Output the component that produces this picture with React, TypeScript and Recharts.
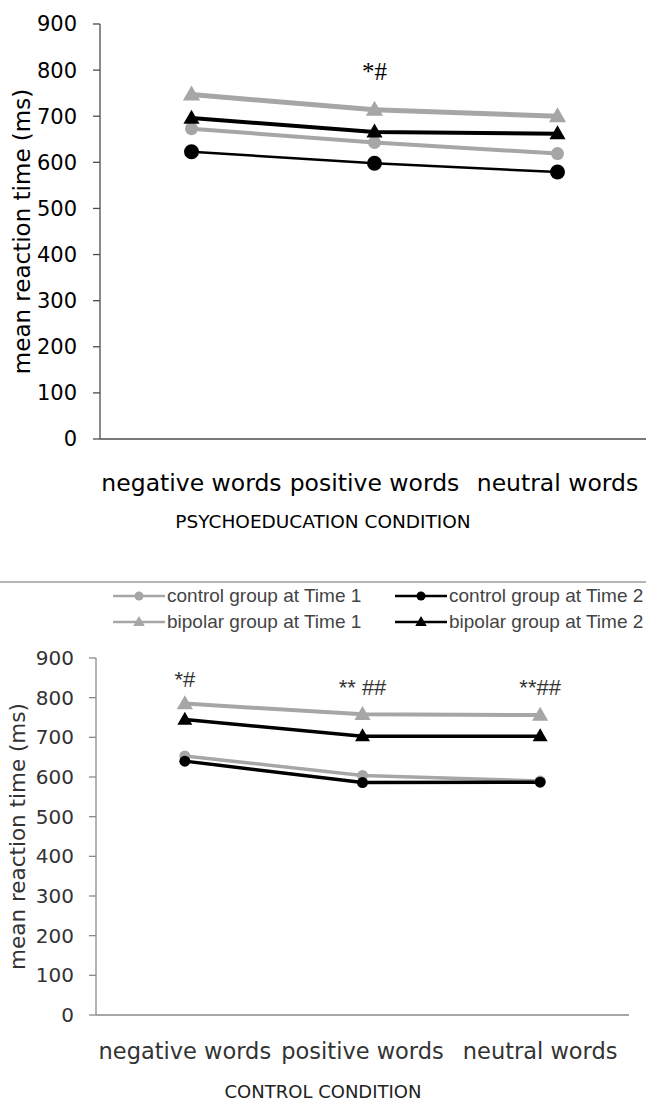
import React from 'react'
import { LineChart, Line, XAxis, YAxis, ReferenceDot, Legend } from 'recharts'

const categories = ['negative words', 'positive words', 'neutral words']
const seriesNames = [
  'control group at Time 1',
  'control group at Time 2',
  'bipolar group at Time 1',
  'bipolar group at Time 2',
]
const yTicks = [0, 100, 200, 300, 400, 500, 600, 700, 800, 900]
const frameTicks = [0, 1, 2, 3]
const labelTicks = [0.5, 1.5, 2.5]

// psychoeducation condition (top panel)
const psyControlT1 = [673, 643, 619]
const psyControlT2 = [623, 598, 579]
const psyBipolarT1 = [747, 714, 700]
const psyBipolarT2 = [696, 666, 662]
const psyMarks = ['', '*#', '']
const psyMarkLevels = [0, 796, 0]

// control condition (bottom panel)
const conControlT1 = [653, 604, 590]
const conControlT2 = [640, 586, 587]
const conBipolarT1 = [785, 758, 756]
const conBipolarT2 = [745, 703, 703]
const conMarks = ['*#', '** ##', '**##']
const conMarkLevels = [845, 825, 825]

const seriesKeys = ['controlT1', 'controlT2', 'bipolarT1', 'bipolarT2']
const seriesColors = ['#a6a6a6', '#000000', '#a6a6a6', '#000000']
const seriesShapes = ['circle', 'circle', 'triangle', 'triangle']

const SANS = '"DejaVu Sans", sans-serif'

function buildRows(c1: number[], c2: number[], b1: number[], b2: number[]) {
  return categories.map((name, i) => ({
    pos: i + 0.5,
    name,
    controlT1: c1[i],
    controlT2: c2[i],
    bipolarT1: b1[i],
    bipolarT2: b2[i],
  }))
}

function Marker({ cx, cy, shape, size, color }: any) {
  if (cx == null || cy == null) return null
  if (shape === 'circle') return <circle cx={cx} cy={cy} r={size} fill={color} />
  const w = size * 2.3
  const h = size * 2
  return (
    <path
      d={`M${cx},${cy - h * 0.6}L${cx + w / 2},${cy + h * 0.4}L${cx - w / 2},${cy + h * 0.4}Z`}
      fill={color}
    />
  )
}

function LegendGrid() {
  return (
    <div
      style={{
        display: 'grid',
        gridTemplateColumns: '282px 282px',
        fontFamily: '"Liberation Sans", Arial, sans-serif',
        fontSize: 19,
        color: '#444',
      }}
    >
      {seriesNames.map((name, s) => (
        <div key={name} style={{ display: 'flex', alignItems: 'center', height: 26, whiteSpace: 'nowrap' }}>
          <svg width={52} height={16}>
            <line x1={0} y1={8} x2={52} y2={8} stroke={seriesColors[s]} strokeWidth={2.5} />
            <Marker cx={26} cy={8} shape={seriesShapes[s]} size={seriesShapes[s] === 'circle' ? 4.5 : 5} color={seriesColors[s]} />
          </svg>
          <span style={{ marginLeft: 2 }}>{name}</span>
        </div>
      ))}
    </div>
  )
}

function ReactionChart({ rows, marks, markLevels, look, withLegend }: any) {
  const yTitle = (props: any) => {
    const vb = props.viewBox
    const cy = vb.y + vb.height / 2
    return (
      <text
        x={look.yTitleX}
        y={cy}
        transform={`rotate(-90 ${look.yTitleX} ${cy})`}
        textAnchor="middle"
        dominantBaseline="central"
        fontFamily={SANS}
        fontSize={look.yTitleFont}
        fill={look.textColor}
      >
        mean reaction time (ms)
      </text>
    )
  }

  const markLabel = (text: string) => (props: any) => {
    const vb = props.viewBox
    return (
      <text
        x={vb.x + vb.width / 2}
        y={vb.y + vb.height / 2}
        textAnchor="middle"
        dominantBaseline="central"
        fontFamily={look.markFamily}
        fontSize={look.markFont}
        fill={look.markColor}
      >
        {text}
      </text>
    )
  }

  return (
    <LineChart width={look.width} height={look.height} data={rows} margin={look.margin}>
      <XAxis
        xAxisId="frame"
        type="number"
        dataKey="pos"
        domain={[0, 3]}
        ticks={frameTicks}
        interval={0}
        tick={false}
        tickSize={8}
        height={8}
        axisLine={{ stroke: look.axisColor, strokeWidth: 1.3 }}
        tickLine={{ stroke: look.axisColor, strokeWidth: 1.3 }}
      />
      <XAxis
        xAxisId="labels"
        type="number"
        dataKey="pos"
        domain={[0, 3]}
        ticks={labelTicks}
        interval={0}
        tickFormatter={(v: number) => categories[Math.floor(v)]}
        axisLine={false}
        tickLine={false}
        tickSize={0}
        tickMargin={look.labelGap}
        height={look.labelHeight}
        tick={{ fill: look.textColor, fontSize: look.catFont, fontFamily: SANS }}
      />
      <YAxis
        type="number"
        domain={[0, 900]}
        ticks={yTicks}
        interval={0}
        width={look.yAxisWidth}
        tickSize={7}
        tickMargin={look.tickGap}
        axisLine={{ stroke: look.axisColor, strokeWidth: 1.3 }}
        tickLine={{ stroke: look.axisColor, strokeWidth: 1.3 }}
        tick={{ fill: look.textColor, fontSize: look.tickFont, fontFamily: SANS }}
        label={yTitle}
      />
      {withLegend && (
        <Legend
          verticalAlign="middle"
          align="center"
          content={() => <LegendGrid />}
          wrapperStyle={{ top: -1, left: 113, width: 600 }}
        />
      )}
      {seriesKeys.map((key, s) => (
        <Line
          key={key}
          xAxisId="frame"
          dataKey={key}
          name={seriesNames[s]}
          stroke={seriesColors[s]}
          strokeWidth={look.strokeWidths[s]}
          isAnimationActive={false}
          activeDot={false}
          dot={(p: any) => (
            <Marker
              key={`${key}-${p.index}`}
              cx={p.cx}
              cy={p.cy}
              shape={seriesShapes[s]}
              size={look.markerSizes[s]}
              color={seriesColors[s]}
            />
          )}
        />
      ))}
      {marks.map((text: string, i: number) =>
        text ? (
          <ReferenceDot
            key={`mark-${i}`}
            xAxisId="frame"
            x={i + 0.5}
            y={markLevels[i]}
            r={0}
            fill="none"
            stroke="none"
            ifOverflow="visible"
            label={markLabel(text)}
          />
        ) : null
      )}
    </LineChart>
  )
}

const psyLook = {
  width: 660,
  height: 540,
  margin: { top: 24, right: 11, left: 0, bottom: 0 },
  yAxisWidth: 100,
  labelHeight: 93,
  labelGap: 27,
  tickGap: 16,
  axisColor: '#4d4d4d',
  textColor: '#000000',
  tickFont: 21,
  catFont: 23.5,
  yTitleFont: 23,
  yTitleX: 22,
  strokeWidths: [4, 2.5, 5, 4],
  markerSizes: [6.5, 7.5, 7.5, 7],
  markFamily: '"Liberation Serif", serif',
  markFont: 25,
  markColor: '#000000',
}

const conLook = {
  width: 646,
  height: 518,
  margin: { top: 74, right: 17, left: 0, bottom: 0 },
  yAxisWidth: 96,
  labelHeight: 79,
  labelGap: 20,
  tickGap: 15,
  axisColor: '#8a8a8a',
  textColor: '#333333',
  tickFont: 20,
  catFont: 22.5,
  yTitleFont: 21.5,
  yTitleX: 17,
  strokeWidths: [3.5, 3.5, 4, 3.5],
  markerSizes: [5.5, 5.5, 7, 6.5],
  markFamily: '"Liberation Sans", Arial, sans-serif',
  markFont: 22,
  markColor: '#333333',
}

const titleStyle = (top: number, size: number, color: string): React.CSSProperties => ({
  position: 'absolute',
  left: 0,
  top,
  width: 646,
  textAlign: 'center',
  fontFamily: SANS,
  fontSize: size,
  lineHeight: `${size}px`,
  color,
})

export default function App() {
  return (
    <div
      style={{
        position: 'absolute',
        left: 0,
        top: 0,
        width: 646,
        height: 1102,
        overflow: 'hidden',
        background: '#ffffff',
      }}
    >
      <div style={{ position: 'absolute', left: 0, top: 0 }}>
        <ReactionChart
          rows={buildRows(psyControlT1, psyControlT2, psyBipolarT1, psyBipolarT2)}
          marks={psyMarks}
          markLevels={psyMarkLevels}
          look={psyLook}
        />
      </div>
      <div style={titleStyle(513, 18.5, '#000000')}>PSYCHOEDUCATION CONDITION</div>
      <div style={{ position: 'absolute', left: 0, top: 581, width: 646, borderTop: '2px solid #b5b5b5' }} />
      <div style={{ position: 'absolute', left: 0, top: 584 }}>
        <ReactionChart
          rows={buildRows(conControlT1, conControlT2, conBipolarT1, conBipolarT2)}
          marks={conMarks}
          markLevels={conMarkLevels}
          look={conLook}
          withLegend
        />
      </div>
      <div style={titleStyle(1083, 18, '#222222')}>CONTROL CONDITION</div>
    </div>
  )
}
